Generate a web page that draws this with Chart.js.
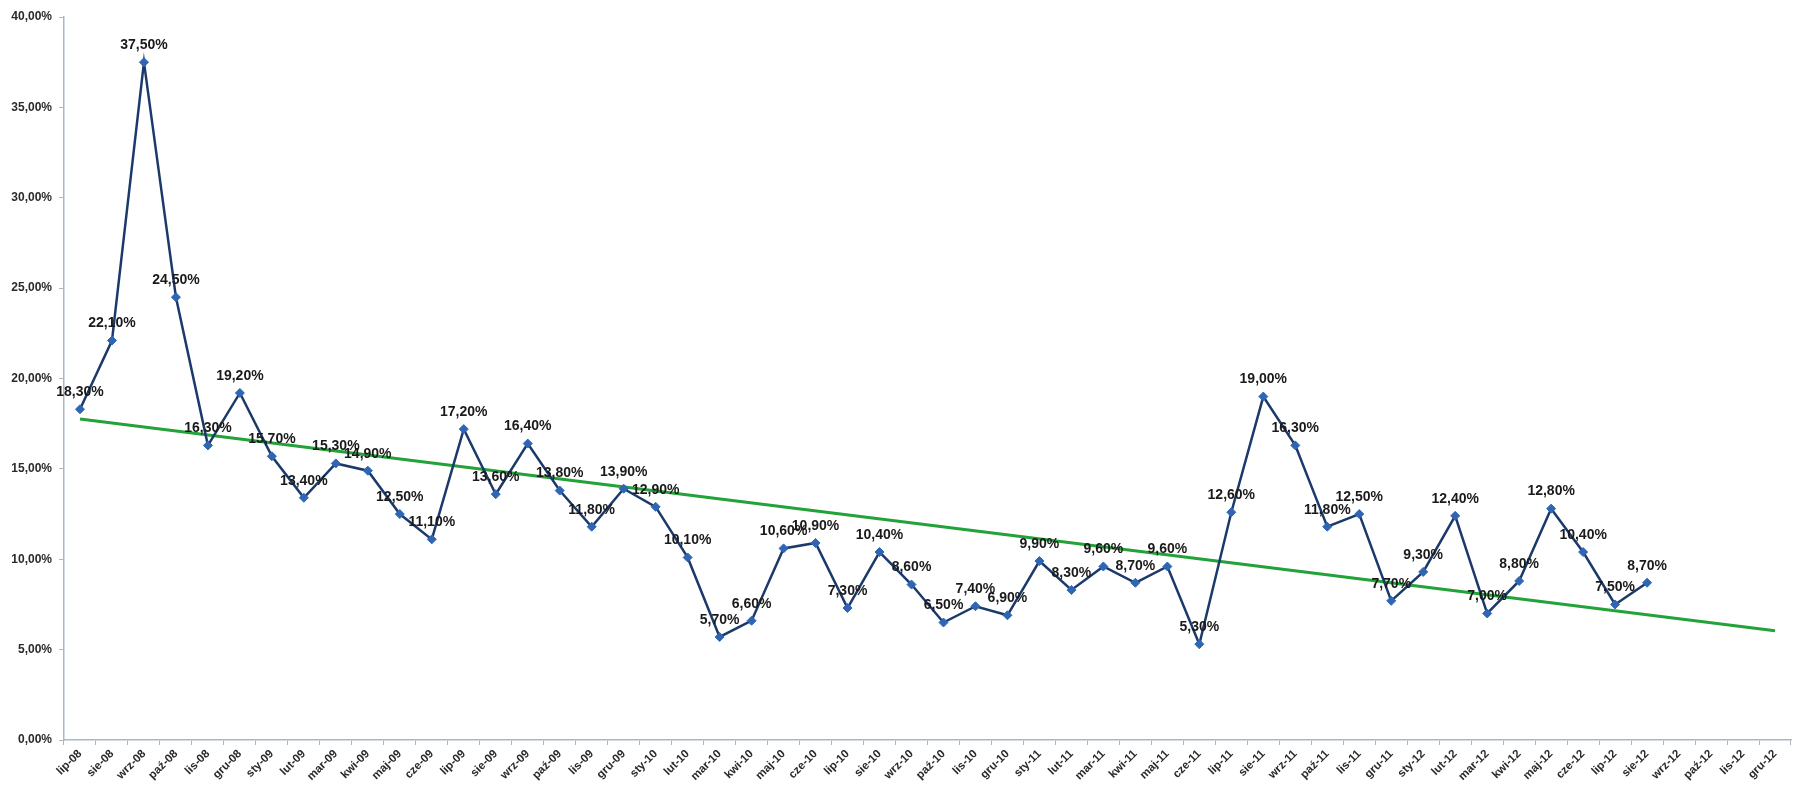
<!DOCTYPE html>
<html>
<head>
<meta charset="utf-8">
<script src="https://cdn.jsdelivr.net/npm/chart.js@4"></script>
<style>
html,body{margin:0;padding:0;background:#fff;}
#wrap{width:1798px;height:790px;}
</style>
</head>
<body>
<div id="wrap"><canvas id="c" width="1798" height="790"></canvas></div>
<script>
const categories = ["lip-08","sie-08","wrz-08","paź-08","lis-08","gru-08",
  "sty-09","lut-09","mar-09","kwi-09","maj-09","cze-09","lip-09","sie-09","wrz-09","paź-09","lis-09","gru-09",
  "sty-10","lut-10","mar-10","kwi-10","maj-10","cze-10","lip-10","sie-10","wrz-10","paź-10","lis-10","gru-10",
  "sty-11","lut-11","mar-11","kwi-11","maj-11","cze-11","lip-11","sie-11","wrz-11","paź-11","lis-11","gru-11",
  "sty-12","lut-12","mar-12","kwi-12","maj-12","cze-12","lip-12","sie-12","wrz-12","paź-12","lis-12","gru-12"];

const rateValues = [18.3,22.1,37.5,24.5,16.3,19.2,
  15.7,13.4,15.3,14.9,12.5,11.1,17.2,13.6,16.4,13.8,11.8,13.9,
  12.9,10.1,5.7,6.6,10.6,10.9,7.3,10.4,8.6,6.5,7.4,6.9,
  9.9,8.3,9.6,8.7,9.6,5.3,12.6,19.0,16.3,11.8,12.5,7.7,
  9.3,12.4,7.0,8.8,12.8,10.4,7.5,8.7,null,null,null,null];

// Trend line endpoints (first and last category)
const trendValues = [17.76,null,null,null,null,null,null,null,null,null,null,null,null,null,null,null,null,null,
  null,null,null,null,null,null,null,null,null,null,null,null,null,null,null,null,null,null,
  null,null,null,null,null,null,null,null,null,null,null,null,null,null,null,null,null,6.05];

const yTicks = [0,5,10,15,20,25,30,35,40];

function fmtPct(v){ return v.toFixed(2).replace('.', ',') + '%'; }

const labelPlugin = {
  id: 'pointLabels',
  afterDatasetsDraw(chart){
    const ctx = chart.ctx;
    const meta = chart.getDatasetMeta(1);
    ctx.save();
    ctx.font = 'bold 14px "Liberation Sans", Arial, sans-serif';
    ctx.fillStyle = '#1a1a1a';
    ctx.textAlign = 'center';
    ctx.textBaseline = 'middle';
    meta.data.forEach((pt, i) => {
      const v = rateValues[i];
      if (v === null || v === undefined) return;
      ctx.fillText(fmtPct(v), pt.x, pt.y - 17);
    });
    ctx.restore();
  }
};

new Chart(document.getElementById('c'), {
  type: 'line',
  data: {
    labels: categories,
    datasets: [
      {
        label: 'trend',
        data: trendValues,
        borderColor: '#24a23a',
        borderWidth: 3,
        pointRadius: 0,
        spanGaps: true,
        fill: false,
        order: 2
      },
      {
        label: 'rate',
        data: rateValues,
        borderColor: '#1b3a6b',
        borderWidth: 2.5,
        pointStyle: 'rectRot',
        pointRadius: 4.5,
        pointBackgroundColor: '#2f66b3',
        pointBorderColor: '#2f66b3',
        pointBorderWidth: 1,
        spanGaps: false,
        fill: false,
        tension: 0,
        order: 1
      }
    ]
  },
  options: {
    responsive: false,
    animation: false,
    layout: { padding: { top: 17, right: 7, left: 0, bottom: 0 } },
    plugins: {
      legend: { display: false },
      tooltip: { enabled: false },
      title: { display: false }
    },
    scales: {
      x: {
        type: 'category',
        offset: true,
        grid: { offset: true, drawOnChartArea: false, drawTicks: true, tickLength: 5, color: '#a9b8c6' },
        border: { color: '#a9b8c6', width: 1.5 },
        ticks: {
          autoSkip: false,
          minRotation: 45,
          maxRotation: 45,
          padding: 2,
          color: '#2a2a2a',
          font: { family: '"Liberation Sans", Arial, sans-serif', size: 11.5, weight: 'bold' }
        },
        afterFit(scale){ scale.height = 50; }
      },
      y: {
        min: 0,
        max: 40,
        afterBuildTicks(scale){ scale.ticks = yTicks.map(v => ({ value: v })); },
        grid: { drawOnChartArea: false, drawTicks: true, tickLength: 5, color: '#a9b8c6' },
        border: { color: '#a9b8c6', width: 1.5 },
        ticks: {
          padding: 7,
          color: '#2a2a2a',
          font: { family: '"Liberation Sans", Arial, sans-serif', size: 12, weight: 'bold' },
          callback: (v) => fmtPct(v)
        },
        afterFit(scale){ scale.width = 64; }
      }
    }
  },
  plugins: [labelPlugin]
});
</script>
</body>
</html>
